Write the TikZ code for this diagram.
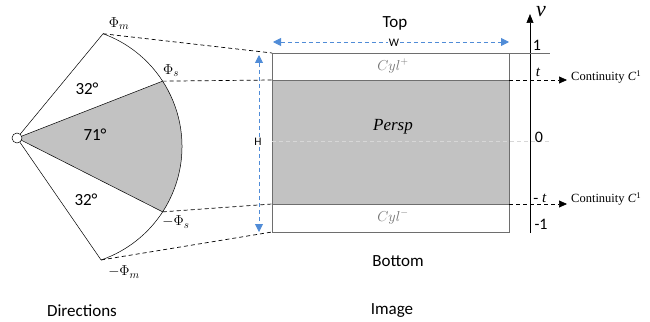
\documentclass[tikz,border=0pt]{standalone}
\usepackage{fontspec}
\newfontfamily\carl{Carlito}
\newfontfamily\tms{Liberation Serif}
\usetikzlibrary{arrows.meta,calc}
\definecolor{bandgray}{RGB}{194,194,194}
\definecolor{edgegray}{RGB}{110,110,110}
\definecolor{lblue}{RGB}{80,140,215}
\definecolor{midgray}{RGB}{215,215,215}
\begin{document}
\begin{tikzpicture}[x=1pt,y=1pt,
  sanslbl/.style={font=\carl\fontsize{17}{19}\selectfont, inner sep=0pt},
  numlbl/.style={font=\carl\fontsize{16}{18}\selectfont, inner sep=0pt},
  smallsans/.style={font=\carl\fontsize{11.5}{13}\selectfont, inner sep=1pt, fill=white},
  mathlbl/.style={font=\fontsize{15}{17}\selectfont, inner sep=0pt},
  cyllbl/.style={font=\fontsize{14}{16}\selectfont, inner sep=0pt, text=black!55},
  band/.style={draw=edgegray, minimum width=237pt, inner sep=0pt, outer sep=0pt, anchor=north west},
  dashline/.style={dashed, dash pattern=on 4pt off 3pt, line width=0.7pt},
  bluearrow/.style={lblue, dash pattern=on 4pt off 3pt, line width=0.9pt, {Triangle[length=8pt,width=8pt]}-{Triangle[length=8pt,width=8pt]}},
  contlbl/.style={font=\tms\fontsize{12.5}{14}\selectfont, inner sep=0pt, anchor=west}
]
\useasboundingbox (0,0) rectangle (650,-321);
% ---------- Directions fan ----------
\coordinate (O) at (17,-138);
\coordinate (C) at (62,-146.5);
\coordinate (Pm) at ($(C)+(70:120)$);
\coordinate (Ps) at ($(C)+(33:120)$);
\coordinate (Pns) at ($(C)+(-33:120)$);
\coordinate (Pnm) at ($(C)+(-71:120)$);
\fill[bandgray] (O) -- (Ps) arc[start angle=33, end angle=-33, radius=120] -- cycle;
\draw[line width=0.5pt] (O) -- (Pm);
\draw[line width=0.5pt] (O) -- (Ps);
\draw[line width=0.5pt] (O) -- (Pns);
\draw[line width=0.5pt] (O) -- (Pnm);
\draw[line width=0.5pt] (Pm) arc[start angle=70, end angle=-71, radius=120];
\node[circle, draw, fill=white, minimum size=10pt, inner sep=0pt, line width=0.5pt] (o) at (O) {};
\node[mathlbl] (lpm) at (119,-24) {$\Phi_m$};
\node[mathlbl] (lps) at (171,-71) {$\Phi_s$};
\node[mathlbl] (lns) at (176,-222) {$-\Phi_s$};
\node[mathlbl] (lnm) at (124,-272) {$-\Phi_m$};
\node[sanslbl] (a1) at (87,-89) {32°};
\node[sanslbl] (a2) at (95,-135) {71°};
\node[sanslbl] (a3) at (86,-200) {32°};
% ---------- Image bands ----------
\node[band, minimum height=27pt] (cylp) at (272,-53) {};
\node[band, minimum height=124pt, fill=bandgray] (persp) at (272,-80) {};
\node[band, minimum height=28pt] (cylm) at (272,-204) {};
\node[cyllbl] (tcylp) at (393,-66) {$Cyl^{+}$};
\node[font=\tms\itshape\fontsize{17}{19}\selectfont, inner sep=0pt] (tpersp) at (393,-127) {Persp};
\node[cyllbl] (tcylm) at (393,-217) {$Cyl^{-}$};
% centre line
\coordinate (cr) at (550,-141);
\draw[midgray, dash pattern=on 4pt off 3pt, line width=0.7pt] (persp.west |- cr) -- (cr);
% ---------- dashed projection lines ----------
\draw[dashline] (Pm) -- (cylp.north west);
\draw[dashline] (Ps) -- (persp.north west);
\draw[dashline] (Pns) -- (persp.south west);
\draw[dashline] (Pnm) -- (cylm.south west);
% ---------- Top / Bottom, W, H ----------
\node[sanslbl] (top) at (395,-23) {Top};
\node[sanslbl] (bottom) at (398,-261) {Bottom};
\coordinate (wl) at (273,-42);
\coordinate (wr) at (509,-42);
\draw[bluearrow] (wl) -- (wr);
\node[smallsans] (w) at (394,-43) {W};
\coordinate (ht) at (259,-55);
\coordinate (hb) at (259,-232);
\draw[bluearrow] (ht) -- (hb);
\node[smallsans] (h) at (258,-142) {H};
% ---------- v axis ----------
\coordinate (vb) at (530,-233);
\coordinate (vt) at (530,-14);
\draw[line width=0.6pt, -{Triangle[length=9pt,width=7pt]}] (vb) -- (vt);
\node[font=\tms\itshape\fontsize{22}{24}\selectfont, inner sep=0pt] (v) at (541,-12) {v};
\coordinate (topr) at (550,-53);
\draw[edgegray, line width=0.5pt] (cylp.north east) -- (topr);
\node[numlbl] (n1) at (537,-45) {1};
\node[font=\tms\itshape\fontsize{15}{17}\selectfont, inner sep=0pt] (nt) at (538,-72) {t};
\node[numlbl] (n0) at (539,-137) {0};
\node[font=\tms\fontsize{15}{17}\selectfont, inner sep=0pt] (nmt) at (540,-198) {- \textit{t}};
\node[numlbl] (nm1) at (541,-224) {-1};
% ---------- continuity arrows ----------
\node[contlbl] (c1) at (571,-77) {Continuity \textit{C}\textsuperscript{1}};
\node[contlbl] (c2) at (571,-199) {Continuity \textit{C}\textsuperscript{1}};
\draw[dashline, -{Triangle[length=8pt,width=7pt]}] (persp.north east) -- ($(c1.west |- persp.north east)+(-4,0)$) coordinate (c1a);
\draw[dashline, -{Triangle[length=8pt,width=7pt]}] (persp.south east) -- ($(c2.west |- persp.south east)+(-4,0)$) coordinate (c2a);
% ---------- captions ----------
\node[sanslbl] (dirs) at (82,-311) {Directions};
\node[sanslbl] (img) at (392,-311) {Image};
\end{tikzpicture}
\end{document}
